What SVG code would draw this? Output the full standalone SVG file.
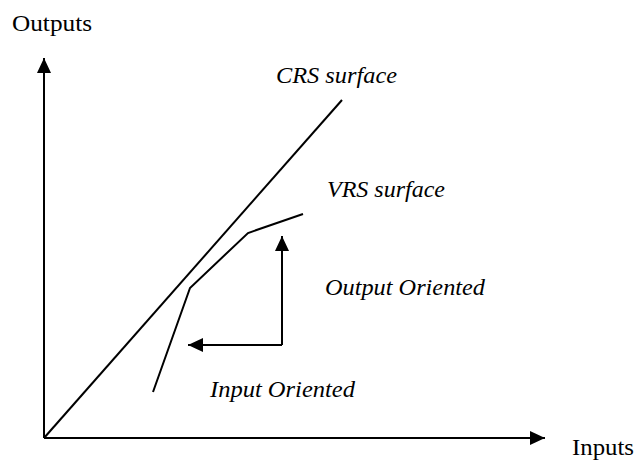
<svg xmlns="http://www.w3.org/2000/svg" width="638" height="461" viewBox="0 0 638 461">
<style>
.ln{stroke:#000;stroke-width:2;fill:none}
.lbl{font-family:"Liberation Serif","Times New Roman",serif;font-size:24px;fill:#000}
.it{font-style:italic}
</style>
<defs>
<marker id="ah" markerUnits="userSpaceOnUse" markerWidth="16" markerHeight="14" refX="15" refY="7" orient="auto">
<path d="M0,0 L15,7 L0,14 Z" fill="#000"/>
</marker>
</defs>
<rect width="638" height="461" fill="#fff"/>
<g id="connectors">
<line id="y-axis" class="ln" x1="44" y1="438" x2="44" y2="58" marker-end="url(#ah)"/>
<line id="x-axis" class="ln" x1="44" y1="438" x2="545" y2="438" marker-end="url(#ah)"/>
<line id="crs" class="ln" x1="44" y1="438" x2="342" y2="100"/>
<polyline id="vrs" class="ln" points="153,392 190,288 248,233 303,214"/>
<line id="output-arrow" class="ln" x1="282" y1="345" x2="282" y2="236" marker-end="url(#ah)"/>
<line id="input-arrow" class="ln" x1="282" y1="345" x2="188" y2="345" marker-end="url(#ah)"/>
</g>
<g id="label-outputs"><text class="lbl" x="12" y="31" textLength="80" lengthAdjust="spacingAndGlyphs">Outputs</text></g>
<g id="label-inputs"><text class="lbl" x="572" y="455" textLength="62" lengthAdjust="spacingAndGlyphs">Inputs</text></g>
<g id="label-crs"><text class="lbl it" x="276" y="83" textLength="121" lengthAdjust="spacingAndGlyphs">CRS surface</text></g>
<g id="label-vrs"><text class="lbl it" x="327" y="197" textLength="118" lengthAdjust="spacingAndGlyphs">VRS surface</text></g>
<g id="label-output-oriented"><text class="lbl it" x="325" y="295" textLength="160" lengthAdjust="spacingAndGlyphs">Output Oriented</text></g>
<g id="label-input-oriented"><text class="lbl it" x="210" y="397" textLength="145" lengthAdjust="spacingAndGlyphs">Input Oriented</text></g>
</svg>
